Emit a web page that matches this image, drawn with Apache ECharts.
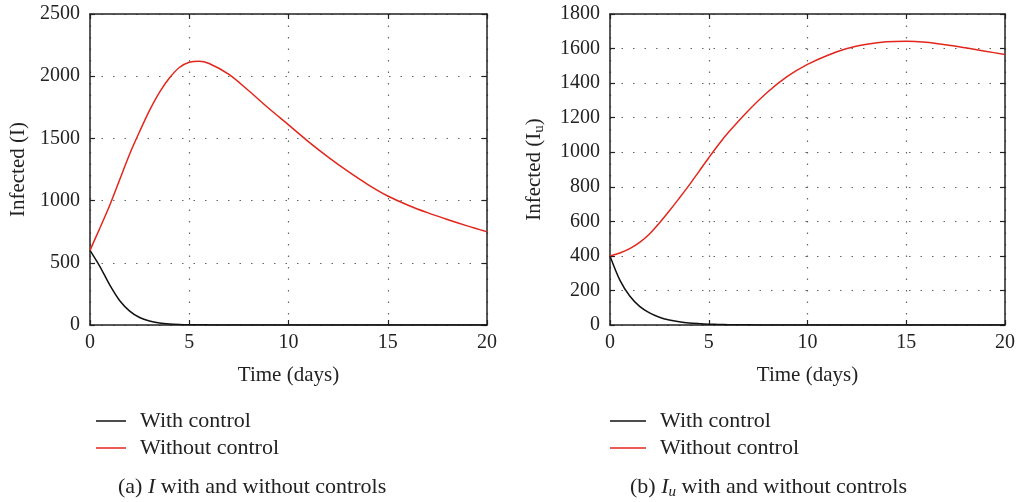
<!DOCTYPE html>
<html>
<head>
<meta charset="utf-8">
<script src="https://cdn.jsdelivr.net/npm/echarts@6/dist/echarts.min.js"></script>
<style>
  html, body { margin: 0; padding: 0; background: #fff; }
  #chart { width: 1018px; height: 502px; }
</style>
</head>
<body>
<div id="chart"></div>
<script>
// time points (days)
var tDays = [0, 0.5, 1, 1.5, 2, 2.5, 3, 3.5, 4, 4.5, 5, 5.5, 6, 7, 8, 9, 10, 11, 12, 13, 14, 15, 16, 17, 18, 19, 20];

// (a) I
var iWith    = [600, 470, 320, 195, 112, 60, 32, 17, 9, 5, 3, 2, 1, 0.5, 0, 0, 0, 0, 0, 0, 0, 0, 0, 0, 0, 0, 0];
var iWithout = [600, 780, 965, 1170, 1375, 1555, 1725, 1870, 1985, 2070, 2112, 2121, 2102, 2015, 1883, 1742, 1609, 1474, 1349, 1234, 1129, 1037, 965, 903, 848, 797, 750];

// (b) Iu
var iuWith    = [400, 260, 168, 108, 70, 45, 29, 19, 12, 8, 5, 3, 2, 1, 0, 0, 0, 0, 0, 0, 0, 0, 0, 0, 0, 0, 0];
var iuWithout = [400, 417, 442, 478, 527, 590, 660, 733, 808, 888, 968, 1045, 1115, 1240, 1350, 1440, 1508, 1560, 1600, 1625, 1640, 1643, 1637, 1622, 1604, 1585, 1565];

var legendNames = ['With control', 'Without control'];

var FONT = '"Liberation Serif", "DejaVu Serif", serif';
var RED = '#e3261c';
var BLACK = '#111';

function pairs(ys) {
  return tDays.map(function (t, i) { return [t, ys[i]]; });
}

var gridLines = { show: true, lineStyle: { color: '#666', type: [1.5, 10], width: 1.2 } };
var frame = { show: true, onZero: false, lineStyle: { color: '#222', width: 1.5 } };
var tickIn = { show: true, inside: true, length: 5, lineStyle: { color: '#222', width: 1.2 } };
var lbl = {
  fontFamily: FONT, fontSize: 20, color: '#222',
  formatter: function (v) { return String(v); }
};

function xMain(grid) {
  return {
    type: 'value', gridIndex: grid, min: 0, max: 20, interval: 5,
    name: 'Time (days)', nameLocation: 'middle', nameGap: 40,
    nameTextStyle: { fontFamily: FONT, fontSize: 21, color: '#222' },
    axisLine: frame, axisTick: tickIn, splitLine: gridLines,
    axisLabel: Object.assign({ margin: 8 }, lbl)
  };
}
function xTop(grid) {
  return {
    type: 'value', gridIndex: grid, position: 'top', min: 0, max: 20, interval: 5,
    axisLine: frame, axisTick: tickIn, splitLine: { show: false }, axisLabel: { show: false }
  };
}
function yMain(grid, max, step, name, gap) {
  return {
    type: 'value', gridIndex: grid, min: 0, max: max, interval: step,
    name: name, nameLocation: 'middle', nameGap: gap, nameRotate: 90,
    nameTextStyle: {
      fontFamily: FONT, fontSize: 21, color: '#222',
      rich: { sub: { fontFamily: FONT, fontSize: 15, color: '#222', padding: [10, 0, 0, 0] } }
    },
    axisLine: frame, axisTick: tickIn, splitLine: gridLines,
    axisLabel: Object.assign({ margin: 10 }, lbl)
  };
}
function yRight(grid, max, step) {
  return {
    type: 'value', gridIndex: grid, position: 'right', min: 0, max: max, interval: step,
    axisLine: frame, axisTick: tickIn, splitLine: { show: false }, axisLabel: { show: false }
  };
}
function line(name, ys, color, xi, yi) {
  return {
    name: name, type: 'line', xAxisIndex: xi, yAxisIndex: yi,
    data: pairs(ys), smooth: 0.3, showSymbol: false, symbol: 'none',
    lineStyle: { color: color, width: 1.5 }, itemStyle: { color: color },
    z: 5
  };
}
function legendAt(left, w) {
  return {
    data: legendNames, orient: 'vertical', left: left, top: 405,
    icon: 'rect', itemWidth: w, itemHeight: 1.5, itemGap: 5,
    textStyle: { fontFamily: FONT, fontSize: 22, color: '#222', padding: [0, 0, 0, 9] },
    selectedMode: false
  };
}

var chart = echarts.init(document.getElementById('chart'));
chart.setOption({
  backgroundColor: '#fff',
  animation: false,
  grid: [
    { left: 90, top: 14, width: 397, height: 311 },
    { left: 610, top: 14, width: 396, height: 311 }
  ],
  xAxis: [xMain(0), xTop(0), xMain(1), xTop(1)],
  yAxis: [
    yMain(0, 2500, 500, 'Infected (I)', 61),
    yRight(0, 2500, 500),
    yMain(1, 1800, 200, 'Infected (I{sub|u})', 63),
    yRight(1, 1800, 200)
  ],
  legend: [legendAt(91, 30), legendAt(605, 36)],
  series: [
    line(legendNames[0], iWith, BLACK, 0, 0),
    line(legendNames[1], iWithout, RED, 0, 0),
    line(legendNames[0], iuWith, BLACK, 2, 2),
    line(legendNames[1], iuWithout, RED, 2, 2)
  ],
  graphic: [
    {
      type: 'text', left: 118, top: 476,
      style: {
        text: '(a) {i|I} with and without controls',
        font: '22px ' + FONT, fill: '#222',
        rich: { i: { fontFamily: FONT, fontSize: 22, fontStyle: 'italic', fill: '#222' } }
      }
    },
    {
      type: 'text', left: 630, top: 476,
      style: {
        text: '(b) {i|I}{s|u} with and without controls',
        font: '22px ' + FONT, fill: '#222',
        rich: {
          i: { fontFamily: FONT, fontSize: 22, fontStyle: 'italic', fill: '#222' },
          s: { fontFamily: FONT, fontSize: 15, fontStyle: 'italic', fill: '#222', padding: [10, 0, 0, 0] }
        }
      }
    }
  ]
});
</script>
</body>
</html>
